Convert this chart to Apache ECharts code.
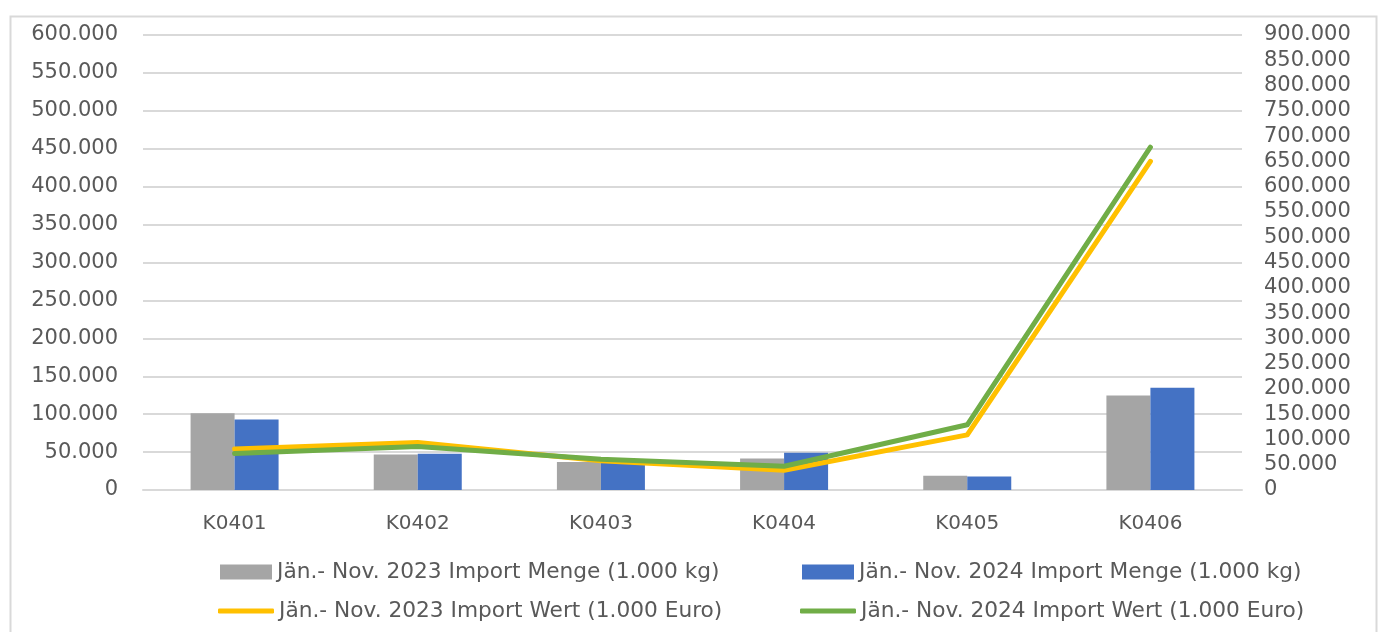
<!DOCTYPE html>
<html>
<head>
<meta charset="utf-8">
<script src="https://cdn.jsdelivr.net/npm/echarts@6/dist/echarts.min.js"></script>
<style>
  html, body { margin: 0; padding: 0; background: #fff; }
  #chart { width: 1384px; height: 632px; }
</style>
</head>
<body>
<div id="chart"></div>
<script>
var categories = ["K0401", "K0402", "K0403", "K0404", "K0405", "K0406"];
var menge2023 = [101300, 46900, 36800, 41600, 18800, 124500];
var menge2024 = [92900, 47800, 37500, 49000, 17900, 135000];
var wert2023 = [81000, 94000, 58000, 39000, 109000, 650000];
var wert2024 = [72000, 86000, 61000, 47000, 129000, 678000];

var names = [
  "Jän.- Nov. 2023 Import Menge (1.000 kg)",
  "Jän.- Nov. 2024 Import Menge (1.000 kg)",
  "Jän.- Nov. 2023 Import Wert (1.000 Euro)",
  "Jän.- Nov. 2024 Import Wert (1.000 Euro)"
];

// tausender mit punkt
function fmt(v) {
  return String(v).replace(/\B(?=(\d{3})+(?!\d))/g, ".");
}

var chart = echarts.init(document.getElementById("chart"));
var labelStyle = { color: "#595959", fontSize: 21, fontFamily: "DejaVu Sans" };
var legendText = { color: "#595959", fontSize: 21.7, fontFamily: "DejaVu Sans", lineHeight: 21 };

// eine legende pro eintrag, damit die spalten passen
function leg(name, left, top, isLine) {
  return {
    left: left, top: top, padding: 0,
    itemWidth: isLine ? 56 : 52,
    itemHeight: isLine ? 5 : 15,
    icon: isLine ? "roundRect" : "rect",
    textStyle: legendText,
    data: [name]
  };
}

chart.setOption({
  animation: false,
  graphic: [{
    type: "rect",
    left: 8, top: 14,
    shape: { width: 1366, height: 640 },
    style: { fill: "none", stroke: "#d9d9d9", lineWidth: 2 }
  }],
  grid: { left: 143, right: 142, top: 35, bottom: 142 },
  legend: [
    leg(names[0], 220, 561, false),
    leg(names[1], 802, 561, false),
    leg(names[2], 218, 600, true),
    leg(names[3], 800, 600, true)
  ],
  xAxis: {
    type: "category",
    data: categories,
    axisLine: { lineStyle: { color: "#d9d9d9", width: 2 } },
    axisTick: { show: false },
    axisLabel: Object.assign({ margin: 24 }, labelStyle, { fontSize: 20 })
  },
  yAxis: [
    {
      type: "value", min: 0, max: 600000, interval: 50000,
      axisLine: { show: false }, axisTick: { show: false },
      splitLine: { lineStyle: { color: "#d9d9d9", width: 2 } },
      axisLabel: Object.assign({ margin: 25, formatter: fmt }, labelStyle)
    },
    {
      type: "value", min: 0, max: 900000, interval: 50000,
      axisLine: { show: false }, axisTick: { show: false },
      splitLine: { show: false },
      axisLabel: Object.assign({ margin: 22, formatter: fmt }, labelStyle)
    }
  ],
  series: [
    {
      name: names[0], type: "bar", data: menge2023,
      barWidth: 44, barGap: "0%",
      itemStyle: { color: "#A5A5A5" }
    },
    {
      name: names[1], type: "bar", data: menge2024,
      barWidth: 44,
      itemStyle: { color: "#4472C4" }
    },
    {
      name: names[2], type: "line", yAxisIndex: 1, data: wert2023,
      symbol: "none",
      lineStyle: { color: "#FFC000", width: 5, cap: "round", join: "round" },
      itemStyle: { color: "#FFC000" }
    },
    {
      name: names[3], type: "line", yAxisIndex: 1, data: wert2024,
      symbol: "none",
      lineStyle: { color: "#70AD47", width: 5, cap: "round", join: "round" },
      itemStyle: { color: "#70AD47" }
    }
  ]
});
</script>
</body>
</html>
